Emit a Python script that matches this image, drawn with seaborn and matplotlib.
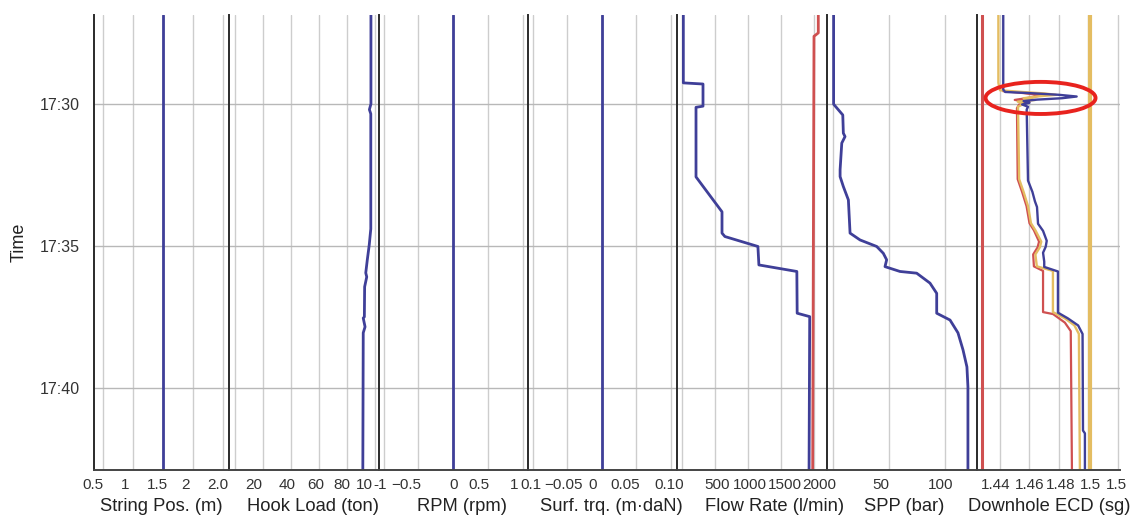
import matplotlib
matplotlib.use("Agg")
import matplotlib.pyplot as plt
import matplotlib.ticker as mticker
import matplotlib.transforms as mtransforms
from matplotlib.patches import Ellipse
import seaborn as sns

sns.set_theme(style="white")
plt.rcParams['font.family'] = ['Liberation Sans', 'DejaVu Sans']

BLUE = "#3f3f98"
RED = "#cf5050"
YELLOW = "#e4bd62"
GRID = "#cdcdcd"
HGRID = "#b8b8b8"

# ---- time axis (minutes after 17:00) ----
time_ticks = [30, 35, 40]
time_labels = ["17:30", "17:35", "17:40"]
t_top, t_bottom = 26.87, 42.89

# ---- constant channels ----
string_pos = 1.5
rpm = 0.0
surf_trq = 0.0
ecd_low_limit = 1.4276
ecd_high_limit = 1.5010

# ---- hook load (ton) ----
hook_t = [26.87, 30.00, 30.20, 30.35, 34.40, 34.96, 35.49, 35.95, 36.09, 36.44,
          37.50, 37.54, 37.85, 38.06, 42.89]
hook_v = [97.1, 97.1, 96.0, 97.0, 97.0, 95.9, 94.5, 93.4, 94.1, 92.6,
          92.4, 91.6, 92.9, 91.6, 91.3]

# ---- flow rate (l/min) ----
flow_in_t = [26.87, 29.26, 29.30, 30.08, 30.12, 32.57, 33.80, 34.55, 34.67,
             35.02, 35.67, 35.90, 37.37, 37.49, 42.89]
flow_in_v = [20, 20, 318, 318, 212, 212, 606, 606, 650,
             1150, 1165, 1740, 1745, 1935, 1925]
flow_out_t = [26.87, 27.50, 27.62, 42.89]
flow_out_v = [2065, 2065, 2000, 1980]

# ---- standpipe pressure (bar) ----
spp_t = [26.87, 30.01, 30.39, 31.03, 31.15, 31.38, 32.32, 32.56, 32.91, 33.38,
         34.55, 34.79, 35.02, 35.26, 35.49, 35.73, 35.90, 35.96, 36.31, 36.67,
         37.37, 37.61, 38.06, 38.66, 39.26, 39.96, 42.89]
spp_v = [0.5, 0.5, 8.7, 9.2, 10.7, 7.8, 6.3, 6.3, 9.2, 13.7,
         15.2, 24.1, 39.0, 44.9, 47.9, 46.4, 59.8, 74.7, 86.6, 92.6,
         92.6, 104.5, 111.6, 116.1, 119.6, 120.5, 120.5]

# ---- downhole ECD (sg) ----
ecd_blue_t = [26.87, 29.50, 29.58, 29.62, 29.68, 29.74, 29.80, 29.85, 29.90,
              29.96, 30.02, 30.10, 30.20, 32.70, 33.10, 33.43, 33.63, 34.22,
              34.47, 34.82, 35.03, 35.24, 35.55, 35.74, 35.90, 37.35, 37.55,
              37.80, 38.10, 41.50, 41.60, 42.89]
ecd_blue_v = [1.4422, 1.4422, 1.4435, 1.4600, 1.4800, 1.4920, 1.4820, 1.4650,
              1.4560, 1.4600, 1.4550, 1.4590, 1.4581, 1.4590, 1.4620, 1.4637,
              1.4651, 1.4658, 1.4692, 1.4717, 1.4710, 1.4692, 1.4700, 1.4700,
              1.4793, 1.4793, 1.4860, 1.4930, 1.4960, 1.4963, 1.4976, 1.4976]

ecd_yellow_t = [26.87, 29.26, 29.52, 29.58, 29.63, 29.68, 29.74, 29.80, 29.86,
                29.92, 30.00, 30.10, 32.65, 33.10, 33.60, 34.20, 34.45, 34.85,
                35.05, 35.30, 35.72, 35.88, 37.33, 37.55, 37.80, 38.10, 42.89]
ecd_yellow_v = [1.4389, 1.4389, 1.4400, 1.4550, 1.4700, 1.4780, 1.4650, 1.4560,
                1.4640, 1.4520, 1.4560, 1.4522, 1.4530, 1.4560, 1.4590, 1.4610,
                1.4640, 1.4680, 1.4670, 1.4640, 1.4650, 1.4759, 1.4759, 1.4840,
                1.4905, 1.4935, 1.4942]

ecd_red_t = [29.55, 29.62, 29.70, 29.78, 29.86, 29.93, 30.02, 30.15, 32.65,
             33.10, 33.60, 34.20, 34.45, 34.85, 35.05, 35.30, 35.72, 35.88,
             37.33, 37.40, 37.70, 38.00, 42.89]
ecd_red_v = [1.4420, 1.4560, 1.4680, 1.4600, 1.4500, 1.4600, 1.4530, 1.4515,
             1.4520, 1.4550, 1.4580, 1.4600, 1.4630, 1.4665, 1.4655, 1.4625,
             1.4630, 1.4692, 1.4692, 1.4760, 1.4840, 1.4880, 1.4888]

# ---- track definitions ----
track_labels = ["String Pos. (m)", "Hook Load (ton)", "RPM (rpm)",
                "Surf. trq. (m\u00b7daN)", "Flow Rate (l/min)", "SPP (bar)",
                "Downhole ECD (sg)"]
track_ticks = [[0.5, 1, 1.5, 2, 2.5],
               [0, 20, 40, 60, 80, 100],
               [-1, -0.5, 0, 0.5, 1],
               [-0.1, -0.05, 0, 0.05, 0.1],
               [0, 500, 1000, 1500, 2000],
               [0, 50, 100],
               [1.44, 1.46, 1.48, 1.50, 1.52]]
track_ticklabels = [["0.5", "1", "1.5", "2", "2.0"],
                    ["", "20", "40", "60", "80", "10"],
                    ["-1", "\u22120.5", "0", "0.5", "1"],
                    ["0.1", "\u22120.05", "0", "0.05", "0.10"],
                    ["", "500", "1000", "1500", "2000"],
                    ["", "50", "100"],
                    ["1.44", "1.46", "1.48", "1.5", "1.5"]]
track_minor = [0.1, 10, 0.1, 0.01, 100, 10, 0.01]
track_xlim = [(0.35, 2.6), (-4.29, 102.86), (-1.065, 1.079), (-0.1072, 0.1087),
              (-76, 2197), (-5.4, 128.6), (1.4244, 1.5214)]

# horizontal nudges (pixels) of the crowded tick labels
label_nudge_px = [[-10, -8, -6, -8, -5],
                  [0, -9, -4, -3, -5, -11],
                  [-3, -12, 1, -9, -8],
                  [-2, -4, -9, -11, -2],
                  [0, 2, 2, 4, 5],
                  [0, -8, -4],
                  [-4, 0, 2, 2, -1]]
# x position of each track title, as a fraction of the track width
title_pos = [0.496, 0.56, 0.557, 0.557, 0.653, 0.513, 0.503]

W, H = 1141, 516
fig = plt.figure(figsize=(W / 100, H / 100), dpi=100)
edges_px = [94, 229, 379, 528, 677, 827, 977, 1120]
bottom = 1 - 470 / H
height = (470 - 15) / H

axes = []
for i in range(7):
    left = edges_px[i] / W
    width = (edges_px[i + 1] - edges_px[i]) / W
    ax = fig.add_axes([left, bottom, width, height])
    ax.set_ylim(t_bottom, t_top)
    ax.set_xlim(*track_xlim[i])
    ax.set_xticks(track_ticks[i])
    ax.set_xticklabels(track_ticklabels[i])
    ax.xaxis.set_minor_locator(mticker.MultipleLocator(track_minor[i]))
    ax.set_yticks(time_ticks)
    ax.grid(True, axis="x", which="major", color=GRID, linewidth=1.0, zorder=0)
    ax.grid(True, axis="y", which="major", color=HGRID, linewidth=1.0, zorder=0)
    for s in ("top", "right"):
        ax.spines[s].set_visible(False)
    ax.spines["left"].set_color("#2a2a2a")
    ax.spines["left"].set_linewidth(1.4)
    ax.spines["bottom"].set_color("#444444")
    ax.spines["bottom"].set_linewidth(1.4)
    ax.tick_params(axis="x", which="major", direction="in", length=7, width=1.0,
                   color="#555555", labelsize=11, labelcolor="#333333", pad=5.5)
    ax.tick_params(axis="x", which="minor", direction="in", length=3.5, width=0.9,
                   color="#555555")
    ax.set_xlabel(track_labels[i], fontsize=13.2, color="#222222")
    ax.xaxis.set_label_coords(title_pos[i], -0.062)
    if i == 0:
        ax.set_yticklabels(time_labels)
        ax.tick_params(axis="y", direction="in", length=10, width=1.2,
                       color="#333333", labelsize=11.5, labelcolor="#333333", pad=10)
        ax.set_ylabel("Time", fontsize=13, color="#222222", labelpad=9)
    else:
        ax.tick_params(axis="y", direction="inout", length=20, width=1.2,
                       color="#333333", labelleft=False)
    ax.set_facecolor("white")
    axes.append(ax)

lw = 2.0
axes[0].axvline(string_pos, color=BLUE, linewidth=lw)
sns.lineplot(x=hook_v, y=hook_t, sort=False, estimator=None, ax=axes[1],
             color=BLUE, linewidth=lw)
axes[2].axvline(rpm, color=BLUE, linewidth=lw)
axes[3].axvline(surf_trq, color=BLUE, linewidth=lw)
sns.lineplot(x=flow_out_v, y=flow_out_t, sort=False, estimator=None, ax=axes[4],
             color=RED, linewidth=lw)
sns.lineplot(x=flow_in_v, y=flow_in_t, sort=False, estimator=None, ax=axes[4],
             color=BLUE, linewidth=lw)
sns.lineplot(x=spp_v, y=spp_t, sort=False, estimator=None, ax=axes[5],
             color=BLUE, linewidth=lw)

ax7 = axes[6]
ax7.axvline(ecd_low_limit, color=RED, linewidth=2.2)
ax7.axvline(ecd_high_limit, color=YELLOW, linewidth=3.0)
sns.lineplot(x=ecd_red_v, y=ecd_red_t, sort=False, estimator=None, ax=ax7,
             color=RED, linewidth=1.6)
sns.lineplot(x=ecd_yellow_v, y=ecd_yellow_t, sort=False, estimator=None, ax=ax7,
             color=YELLOW, linewidth=1.7)
sns.lineplot(x=ecd_blue_v, y=ecd_blue_t, sort=False, estimator=None, ax=ax7,
             color=BLUE, linewidth=1.7)

# highlight of the ECD excursion around 17:30
spike_center = (1.4675, 29.79)
ax7.add_patch(Ellipse(spike_center, width=0.0746, height=1.13, fill=False,
                      edgecolor="#e8231e", linewidth=2.8, clip_on=False, zorder=5))

for i, ax in enumerate(axes):
    ax.set_ylim(t_bottom, t_top)
    ticks = ax.xaxis.get_major_ticks()
    for tick, dx in zip(ticks, label_nudge_px[i]):
        shift = mtransforms.ScaledTranslation(dx / 100, 0, fig.dpi_scale_trans)
        tick.label1.set_transform(tick.label1.get_transform() + shift)

fig.savefig("out.png", dpi=100, facecolor="white")
